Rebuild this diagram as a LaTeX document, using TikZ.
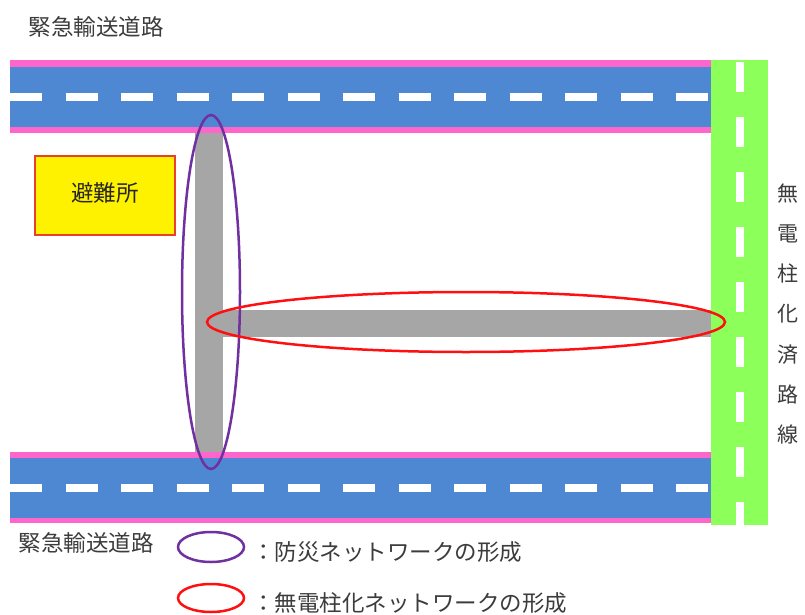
\documentclass[tikz,border=0pt]{standalone}
\usepackage{fontspec}
\setmainfont{Noto Sans CJK JP}
\definecolor{roadblue}{HTML}{4F88D2}
\definecolor{roadpink}{HTML}{FF66CC}
\definecolor{roadgreen}{HTML}{8CFF5A}
\definecolor{roadgray}{HTML}{A6A6A6}
\definecolor{netpurple}{HTML}{7030A0}
\definecolor{netred}{HTML}{FF1010}
\definecolor{txtgray}{HTML}{3C3C3C}
\definecolor{boxred}{HTML}{E8402A}
\tikzset{
  lbl/.style={text=txtgray, font=\fontsize{22.5}{26}\selectfont, inner sep=0pt},
  lanemark/.style={white, line width=8pt, dash pattern=on 32pt off 23.5pt},
  vlanemark/.style={white, line width=8pt, dash pattern=on 30pt off 25pt},
  purplering/.style={draw=netpurple, line width=2.5pt},
  redring/.style={draw=netred, line width=2.5pt},
}
\begin{document}
\begin{tikzpicture}[x=1pt,y=-1pt]
\useasboundingbox[fill=white] (0,0) rectangle (805,615);
% top emergency road
\fill[roadpink] (10,60) rectangle (711,133);
\fill[roadblue] (10,67) rectangle (711,127);
\draw[lanemark] (10,97) -- (711,97);
% bottom emergency road
\fill[roadpink] (10,452) rectangle (711,523);
\fill[roadblue] (10,458) rectangle (711,518);
\draw[lanemark] (10,488) -- (711,488);
% gray roads
\fill[roadgray] (195,133) rectangle (223,452);
\fill[roadgray] (223,310) rectangle (711,337);
% green road
\fill[roadgreen] (711,60) rectangle (768,525);
\draw[vlanemark] (740,62) -- (740,525);
% network ellipses
\draw[purplering] (211,292) ellipse [x radius=29, y radius=177];
\draw[redring] (466,322) ellipse [x radius=259, y radius=30];
% shelter
\node[draw=boxred, line width=2pt, fill=yellow, minimum width=140pt, minimum height=79pt, inner sep=0pt] (shelter) at (105,195.5) {};
\node[lbl, text=black!85] (sheltertext) at (105,193) {避難所};
% labels
\node[lbl] (toplabel) at (96,27) {緊急輸送道路};
\node[lbl] (bottomlabel) at (86,543) {緊急輸送道路};
\node[lbl, align=center, font=\fontsize{21}{40.3}\selectfont] (vlabel) at (788,314) {無\\電\\柱\\化\\済\\路\\線};
% legend
\draw[purplering] (211,547) ellipse [x radius=33, y radius=15];
\node[lbl, anchor=west] (legend1) at (252,552) {：防災ネットワークの形成};
\draw[redring] (211,598) ellipse [x radius=33, y radius=14];
\node[lbl, anchor=west] (legend2) at (252,603) {：無電柱化ネットワークの形成};
\end{tikzpicture}
\end{document}
